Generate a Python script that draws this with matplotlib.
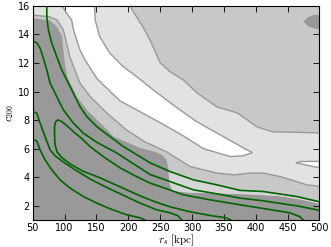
import numpy as np
import matplotlib.pyplot as plt

plt.rcParams['mathtext.fontset'] = 'cm'

# boundary between the dark and mid grey areas (no line drawn there)
dark_x = [50, 77, 88, 96, 98, 101, 106, 109, 119, 135, 156, 177, 198, 218, 242, 253, 260, 263, 265, 269, 297, 344, 391, 438, 470, 500]
dark_y = [15.14, 14.97, 14.55, 13.85, 12.92, 11.75, 10.82, 10.59, 9.65, 8.72, 7.79, 6.85, 6.45, 6.06, 5.78, 5.57, 5.22, 4.52, 3.54, 3.05, 2.91, 2.87, 2.80, 2.67, 2.45, 2.14]

# lower edge of the light grey band
light_lo_x = [50, 77, 88, 98, 103, 108, 116, 124, 140, 166, 197, 226, 260, 297, 339, 367, 391, 412, 438, 464, 480, 500]
light_lo_y = [15.37, 15.23, 15.02, 14.32, 13.41, 12.45, 11.52, 10.61, 9.65, 8.51, 7.32, 6.48, 5.78, 4.75, 4.29, 4.17, 4.29, 4.29, 4.05, 3.70, 3.47, 3.36]

# upper edge of the light grey band (mid grey in the top right)
mid_hi_x = [203, 208, 223, 234, 250, 266, 286, 308, 339, 371, 402, 427, 500]
mid_hi_y = [16, 15.58, 14.53, 13.62, 12.01, 11.38, 10.82, 9.91, 8.93, 8.51, 7.53, 7.18, 7.11]

# white ridge
white_lo_x = [96, 103, 111, 114, 119, 124, 132, 142, 151, 166, 187, 218, 255, 290, 318, 360, 380, 394]
white_lo_y = [16, 15.49, 15.02, 14.32, 13.62, 12.92, 12.22, 11.52, 10.90, 10.25, 9.35, 8.60, 7.70, 6.80, 6.00, 5.45, 5.50, 5.71]
white_hi_x = [147, 148, 155, 171, 192, 213, 239, 260, 281, 307, 349, 386, 394]
white_hi_y = [16, 15.0, 13.85, 12.69, 11.75, 11.05, 10.12, 9.42, 8.72, 7.90, 6.85, 5.92, 5.75]

# small white patch at right edge
blob_x = [464, 470, 485, 500, 500, 485, 475, 464]
blob_y = [5.01, 5.10, 5.11, 5.11, 4.66, 4.80, 4.90, 5.01]

# small dark patch top right
dblob_x = [475, 482, 490, 500, 500, 490, 482, 475]
dblob_y = [14.90, 15.20, 15.35, 15.40, 14.35, 14.45, 14.60, 14.90]

# green contours
ga_x = [72, 72, 74.5, 79.8, 87.7, 95.5, 103.4, 113.7, 124.2, 134.8, 150.5, 171.3, 192.2, 234.2, 265.5, 302.1, 338.8, 375.4, 412, 464.4, 500]
ga_y = [16, 15.25, 14.32, 13.39, 12.45, 11.52, 10.82, 9.89, 8.95, 8.25, 7.55, 6.85, 6.15, 5.01, 4.40, 3.82, 3.47, 3.08, 3.00, 2.65, 2.28]

gb_x = [50, 56.3, 61.5, 66.6, 72, 77.2, 87.7, 98, 113.7, 129.4, 150.5, 181.8, 234.2, 265.5, 302.1, 338.8, 375.4, 411.5, 464.4, 500]
gb_y = [13.5, 13.43, 13.04, 12.34, 11.52, 10.59, 9.65, 8.72, 7.79, 7.09, 6.45, 5.70, 4.19, 3.70, 3.12, 2.84, 2.54, 2.35, 2.00, 1.68]

gloop_x = [361.2, 353.4, 331.4, 296.9, 265.5, 242, 218.4, 187, 155.6, 127.4, 108.5, 96, 88.1, 85, 84.2, 84.2, 85.8, 89.7,
           95.5, 103.8, 113.7, 127.4, 139.9, 163.5, 187, 210.6, 234.2, 260.3, 286.4, 328.3, 375.4, 414.6, 453.9, 469.6, 474.7]
gloop_y = [1.0, 1.16, 1.30, 1.58, 1.93, 2.28, 2.70, 3.33, 3.96, 4.45, 4.94, 5.36, 5.78, 6.27, 6.97, 7.53, 7.88, 8.02,
           7.90, 7.60, 7.20, 6.69, 6.15, 5.36, 4.66, 4.10, 3.59, 3.19, 2.77, 2.42, 2.07, 1.79, 1.51, 1.23, 1.0]

gc_x = [50, 56.3, 61.5, 69.3, 77.2, 85, 97.6, 119.1, 139.9, 166.2, 192.2, 218.4, 244.6, 265.5, 278.1, 283.9]
gc_y = [8.6, 8.49, 7.79, 6.85, 5.92, 5.50, 5.08, 4.45, 3.88, 3.28, 2.74, 2.19, 1.72, 1.51, 1.30, 1.0]

gd_x = [50, 56.3, 61.5, 69.3, 79.8, 92.9, 108.5, 129.4, 150.5, 171.3, 197.5, 218.4, 226.3]
gd_y = [6.62, 6.55, 5.92, 5.22, 4.52, 3.82, 3.24, 2.65, 2.19, 1.79, 1.37, 1.16, 1.0]

fig = plt.figure(figsize=(3.31, 2.47), dpi=100)
ax = fig.add_axes([0.099, 0.109, 0.866, 0.867])
ax.set_facecolor('#999999')

# mid grey above the dark area
ax.fill(dark_x + [500, 50], dark_y + [16, 16], color='#c8c8c8', lw=0)
# lighter strip under the top green line
sx = [263] + ga_x[14:] + dark_x[::-1][:8]
sy = [4.52] + ga_y[14:] + dark_y[::-1][:8]
ax.fill(sx, sy, color='#d6d6d6', lw=0)
# light grey band
ax.fill(light_lo_x + [500] + mid_hi_x[::-1] + [50],
        light_lo_y + [7.11] + mid_hi_y[::-1] + [16], color='#e2e2e2', lw=0)
# white ridge
ax.fill(white_lo_x + white_hi_x[::-1], white_lo_y + white_hi_y[::-1], color='white', lw=0)
ax.fill(blob_x, blob_y, color='white', lw=0)
ax.fill(dblob_x, dblob_y, color='#999999', lw=0)

lc = '#999999'
for xs, ys in [(light_lo_x, light_lo_y), (mid_hi_x, mid_hi_y), (white_lo_x, white_lo_y),
               (white_hi_x, white_hi_y), (blob_x, blob_y)]:
    ax.plot(xs, ys, color=lc, lw=1.0)

for xs, ys in [(ga_x, ga_y), (gb_x, gb_y), (gloop_x, gloop_y), (gc_x, gc_y), (gd_x, gd_y)]:
    ax.plot(xs, ys, color='#006400', lw=1.2)

ax.set_xlim(50, 500)
ax.set_ylim(1, 16)
ax.set_xticks(np.arange(50, 501, 50))
ax.set_yticks(np.arange(2, 17, 2))
ax.tick_params(direction='in', top=True, right=True, labelsize=7, length=4, width=0.6, pad=2)
ax.set_xlabel(r'$r_s\ [\mathrm{kpc}]$', fontsize=8, labelpad=0)
ax.set_ylabel(r'$c_{200}$', fontsize=8)
ax.yaxis.set_label_coords(-0.058, 0.5)

fig.savefig('out.png', dpi=100)
